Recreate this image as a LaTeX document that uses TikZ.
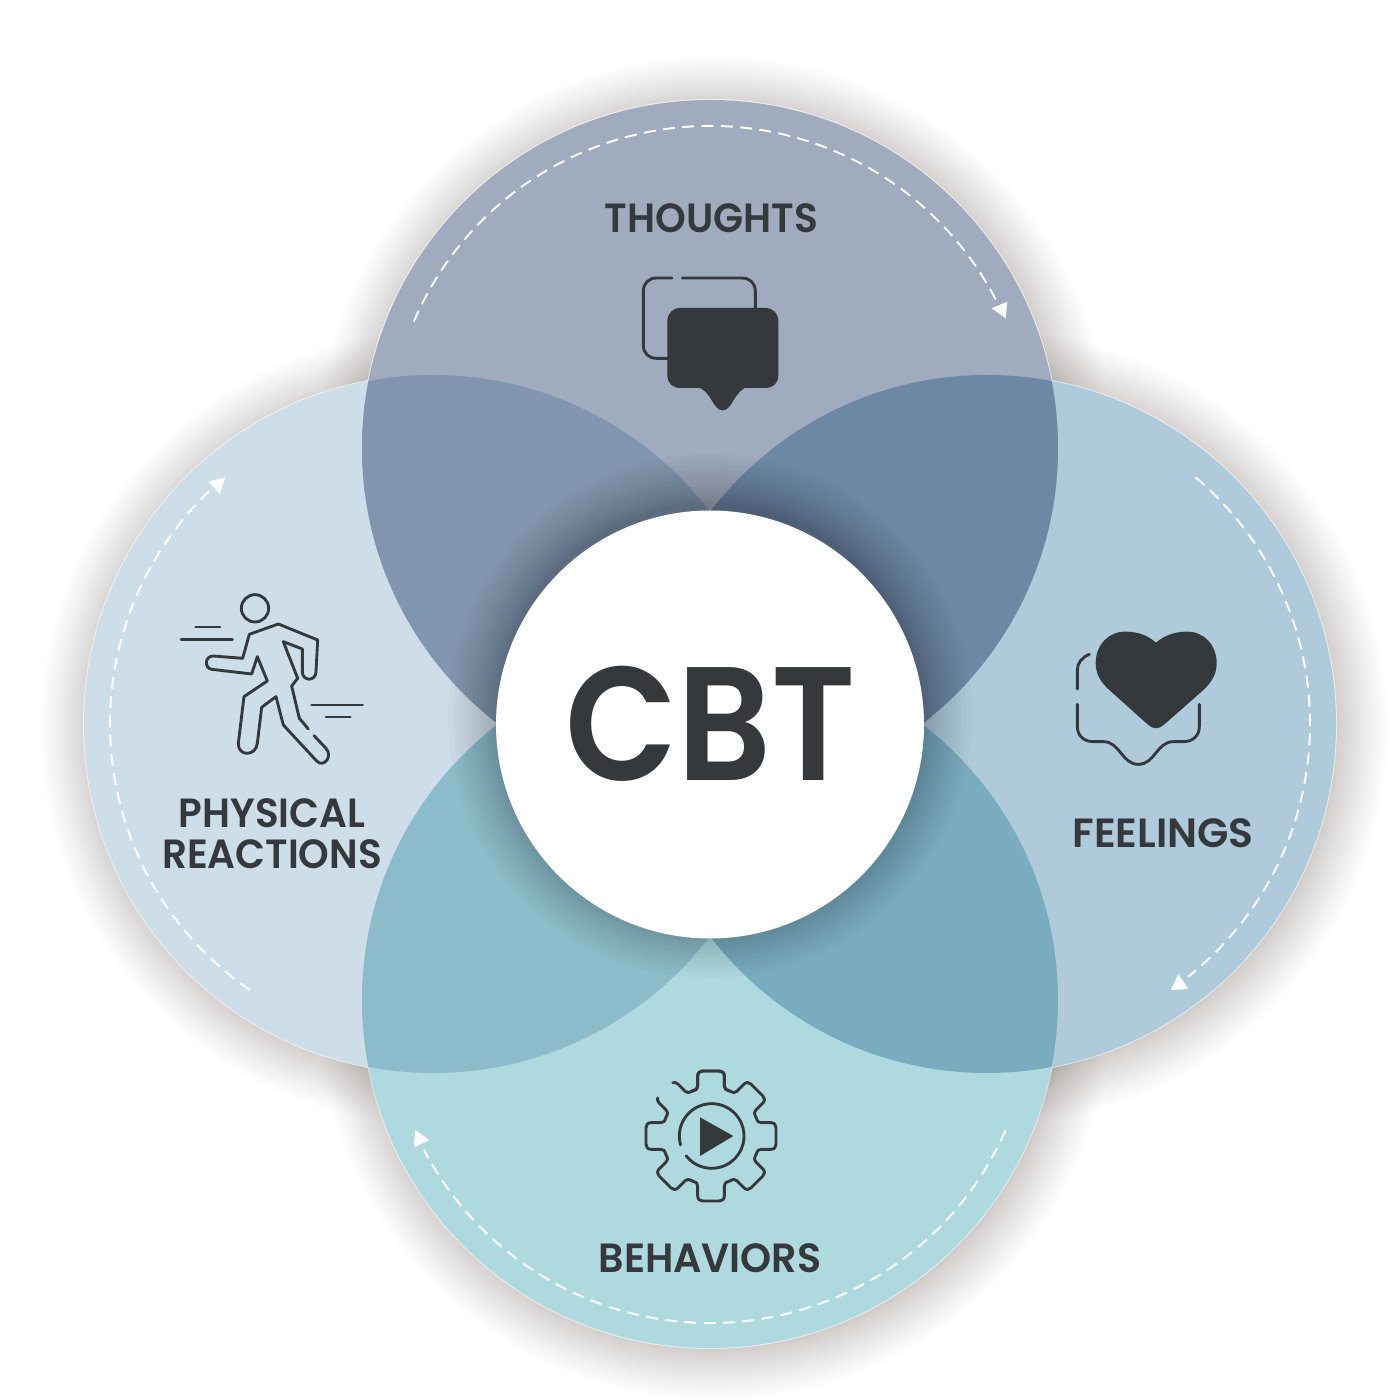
\documentclass[tikz,border=0pt]{standalone}
\usepackage{fontspec}
\usepackage{graphicx}
\setmainfont{Poppins}[UprightFont=* SemiBold]
\definecolor{cTop}{HTML}{A0ABBE}
\definecolor{cLeft}{HTML}{CDDEE9}
\definecolor{cRight}{HTML}{AECADB}
\definecolor{cBot}{HTML}{AEDADF}
\definecolor{cTL}{HTML}{8295AE}
\definecolor{cTR}{HTML}{6D88A5}
\definecolor{cBL}{HTML}{8CBCC9}
\definecolor{cBR}{HTML}{7AACC0}
\definecolor{ink}{HTML}{36393C}
\definecolor{warmshadow}{HTML}{3A302A}
\tikzset{
  x=0.01cm,y=0.01cm,
  label text/.style={text=ink,font=\fontsize{11.6pt}{11.6pt}\selectfont,inner sep=0pt,align=center},
  flow/.style={draw=white,line width=0.55pt,dash pattern=on 3.4pt off 2.1pt},
  flow tip/.style={fill=white},
  icon line/.style={draw=ink,line width=0.82pt,line cap=round,line join=round},
  icon fill/.style={fill=ink},
  soft/.style={warmshadow,fill opacity=0.012}
}
\begin{document}
\begin{tikzpicture}
\path[use as bounding box,fill=white] (0,0) rectangle (1400,1400);
% outer shadows
\foreach \i in {1,...,20}{%
  \pgfmathsetmacro{\rr}{344+52*(\i/20)^1.5}
  \fill[soft] (714,948) circle [radius=\rr];
  \fill[soft] (437,672) circle [radius=\rr];
  \fill[soft] (991,672) circle [radius=\rr];
  \fill[soft] (714,396) circle [radius=\rr];
}
% thin light rim of the discs
\fill[white,fill opacity=0.6] (433,676) circle [radius=350];
\fill[white,fill opacity=0.6] (987,676) circle [radius=350];
\fill[white,fill opacity=0.6] (710,952) circle [radius=349];
\fill[white,fill opacity=0.6] (710,400) circle [radius=349];
% discs
\fill[cLeft]  (433,676) circle [radius=349];
\fill[cRight] (987,676) circle [radius=349];
\fill[cTop]   (710,952) circle [radius=348];
\fill[cBot]   (710,400) circle [radius=348];
% lenses
\begin{scope}
  \clip (710,952) circle [radius=348];
  \fill[cTL] (433,676) circle [radius=349];
  \fill[cTR] (987,676) circle [radius=349];
\end{scope}
\begin{scope}
  \clip (710,400) circle [radius=348];
  \fill[cBL] (433,676) circle [radius=349];
  \fill[cBR] (987,676) circle [radius=349];
\end{scope}
% centre shadow
\foreach \i in {1,...,14}{%
  \pgfmathsetmacro{\rr}{212+50*(\i/14)^1.5}
  \fill[black,fill opacity=0.021] (710,684) circle [radius=\rr];
}
\fill[white] (710,675.5) circle [radius=214];
% dashed arcs
\draw[flow] (710,952) ++(156.9:322) arc [start angle=156.9,end angle=27.3,radius=322];
\draw[flow] (987,676) ++(49.8:323) arc [start angle=49.8,end angle=-51.5,radius=323];
\draw[flow] (710,400) ++(-23.8:323) arc [start angle=-23.8,end angle=-152.4,radius=323];
\draw[flow] (433,676) ++(235.5:323) arc [start angle=235.5,end angle=133.6,radius=323];
% labels
\node[label text] (cbt) at (711,676) {\fontsize{46pt}{46pt}\selectfont\scalebox{0.904}[1]{CBT}};
\node[label text] (thoughts) at (711.5,1182) {\scalebox{0.96}[1]{THOUGHTS}};
\node[label text] (physical) at (272,587) {\scalebox{0.955}[1]{PHYSICAL}};
\node[label text] (reactions) at (272,546) {\scalebox{0.955}[1]{REACTIONS}};
\node[label text] (feelings) at (1163,567) {FEELINGS};
\node[label text] (behaviors) at (710,142) {\scalebox{0.97}[1]{BEHAVIORS}};
% everything below in reference pixels (y down)
\begin{scope}[shift={(0,1400)},yscale=-1]
  \fill[flow tip] (1007.3,301.7) -- (991.7,308.3) -- (1005.7,318.3) -- cycle;
  \fill[flow tip] (1178.3,974) -- (1170.7,990) -- (1188.3,989) -- cycle;
  \fill[flow tip] (225,477.3) -- (208.3,481.7) -- (220,494) -- cycle;
  \fill[flow tip] (415,1130) -- (429.3,1140) -- (414,1147.3) -- cycle;
  % thoughts icon, zoom coordinates
  \begin{scope}[shift={(600,180)},scale=1/3]
    \draw[icon line] (216,294) -- (170,294) .. controls (146,294) and (130,310) .. (130,334) -- (130,495) .. controls (130,520) and (146,535) .. (170,535) -- (205,535);
    \draw[icon line] (247,294) -- (425,294) .. controls (450,294) and (466,310) .. (466,334) -- (466,386);
    \fill[icon fill] (240,384) -- (495,384) .. controls (520,384) and (535,400) .. (535,425) -- (535,585) .. controls (535,610) and (520,624) .. (495,624) -- (435,624) .. controls (412,635) and (400,665) .. (388,680) .. controls (378,695) and (358,695) .. (348,680) .. controls (335,665) and (325,635) .. (300,624) -- (240,624) .. controls (218,624) and (202,610) .. (202,585) -- (202,425) .. controls (202,400) and (218,384) .. (240,384) -- cycle;
  \end{scope}
  % running figure
  \begin{scope}[shift={(170,580)},scale=1/3]
    \draw[icon line] (255,85) circle [radius=41];
    \draw[icon line] (77,141) -- (150,141);
    \draw[icon line] (33,178) -- (187,178);
    \draw[icon line] (425,375) -- (578,375);
    \draw[icon line] (468,411) -- (541,411);
    \draw[icon line] (415,447) -- (388,415) -- (365,318) -- (383,295) -- (340,185) -- (397,207) -- (397,275) .. controls (397,305) and (438,305) .. (438,275) -- (443,180) -- (325,132) -- (238,163) -- (218,235) -- (130,228) .. controls (103,228) and (103,265) .. (125,268) -- (245,282) -- (262,230) -- (292,303) -- (222,350) -- (205,490) .. controls (203,530) and (258,530) .. (262,490) -- (275,382) -- (318,350) -- (340,435) -- (440,543) .. controls (460,565) and (490,530) .. (468,505) -- (432,467);
  \end{scope}
  % heart icon
  \begin{scope}[shift={(1060,620)},scale=1/3]
    \fill[icon fill] (288,68) .. controls (262,45) and (232,35) .. (195,35) .. controls (145,35) and (107,75) .. (107,130) .. controls (107,165) and (125,190) .. (150,212) -- (265,315) .. controls (280,328) and (296,328) .. (311,315) -- (428,212) .. controls (452,190) and (470,165) .. (470,130) .. controls (470,75) and (432,35) .. (382,35) .. controls (345,35) and (315,45) .. (288,68) -- cycle;
    \draw[icon line] (88,103) .. controls (65,112) and (52,130) .. (52,150) -- (52,207);
    \draw[icon line] (52,253) -- (52,320) .. controls (52,350) and (75,365) .. (100,365) -- (130,365) .. controls (180,365) and (185,433) .. (235,433) .. controls (285,433) and (290,365) .. (340,365) -- (370,365) .. controls (398,365) and (418,348) .. (418,320) -- (418,253);
  \end{scope}
  % gear icon
  \begin{scope}[shift={(630,1060)},scale=1/3]
    \draw[icon line] (245,228) ++(164:97) arc [start angle=164,end angle=502,radius=97];
    \fill[icon fill] (210,172) -- (310,228) -- (210,288) -- cycle;
    \begin{scope}[shift={(243,228)}]
      \foreach \a in {0,45,...,270,360}{%
        \begin{scope}[rotate=\a]
          \draw[icon line] (-56,-135) .. controls (-44,-140) and (-40,-140) .. (-40,-150) -- (-40,-180) .. controls (-40,-190) and (-33,-195) .. (-25,-195) -- (25,-195) .. controls (33,-195) and (40,-190) .. (40,-180) -- (40,-150) .. controls (40,-140) and (44,-140) .. (56,-135);
        \end{scope}
      }
      \begin{scope}[rotate=-45]
        \draw[icon line] (-56,-135) .. controls (-44,-140) and (-40,-140) .. (-40,-150) -- (-40,-180) .. controls (-40,-188) and (-36,-192) .. (-32,-194);
        \draw[icon line] (56,-135) .. controls (44,-140) and (40,-140) .. (40,-150) -- (40,-180) .. controls (40,-188) and (36,-192) .. (32,-194);
      \end{scope}
    \end{scope}
  \end{scope}
\end{scope}
\end{tikzpicture}
\end{document}
